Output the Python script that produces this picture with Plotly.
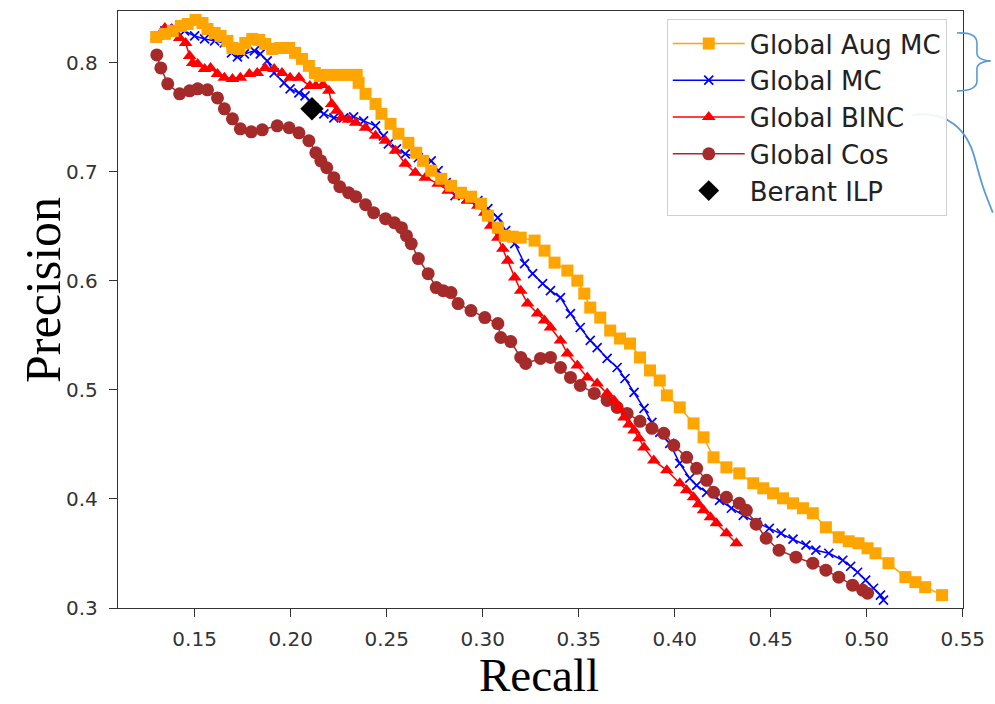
import plotly.graph_objects as go

# ---------------- data ----------------
aug_mc_recall = [0.130,0.1345,0.1386,0.1428,0.1464,0.1505,0.1541,0.1567,0.1604,0.1635,0.1671,0.1697,0.1733,0.1764,0.1800,0.1836,0.1867,0.1904,0.1945,0.1992,0.2023,0.2059,0.2095,0.2126,0.2152,0.2188,0.2240,0.2292,0.2344,0.2354,0.2390,0.2442,0.2473,0.2520,0.2561,0.2613,0.2654,0.2690,0.2732,0.2784,0.2835,0.2887,0.2939,0.2991,0.3027,0.3079,0.3115,0.3156,0.3198,0.3270,0.3322,0.3374,0.3441,0.3493,0.3529,0.3560,0.3612,0.3664,0.3715,0.3767,0.3819,0.3871,0.3922,0.3959,0.4026,0.4098,0.4150,0.4202,0.4269,0.4336,0.4409,0.4461,0.4512,0.4564,0.4616,0.4668,0.4719,0.4787,0.4854,0.4906,0.4957,0.5004,0.5045,0.5113,0.5201,0.5253,0.5304,0.5392]
aug_mc_precision = [0.8238,0.8266,0.8293,0.8339,0.8357,0.8394,0.8366,0.8311,0.8275,0.8247,0.8202,0.8137,0.8128,0.8183,0.8220,0.8211,0.8174,0.8128,0.8137,0.8137,0.8092,0.8037,0.7973,0.7908,0.7881,0.7890,0.7890,0.7890,0.7890,0.7817,0.7716,0.7624,0.7533,0.7441,0.7350,0.7267,0.7176,0.7102,0.7011,0.6937,0.6873,0.6809,0.6773,0.6708,0.6599,0.6489,0.6415,0.6406,0.6397,0.6370,0.6278,0.6168,0.6095,0.6003,0.5884,0.5756,0.5664,0.5545,0.5472,0.5426,0.5298,0.5179,0.5087,0.4950,0.4840,0.4693,0.4565,0.4382,0.4290,0.4235,0.4144,0.4098,0.4052,0.4006,0.3960,0.3915,0.3869,0.3740,0.3649,0.3612,0.3594,0.3548,0.3502,0.3411,0.3283,0.3237,0.3191,0.3118]

mc_recall = [0.1303,0.1345,0.1396,0.1448,0.1500,0.1552,0.1604,0.1655,0.1692,0.1723,0.1759,0.1811,0.1842,0.1878,0.1914,0.1966,0.1997,0.2043,0.2075,0.2121,0.2173,0.2225,0.2276,0.2328,0.2380,0.2442,0.2483,0.2509,0.2551,0.2597,0.2665,0.2732,0.2768,0.2810,0.2856,0.2913,0.2975,0.3027,0.3079,0.3120,0.3167,0.3218,0.3260,0.3312,0.3353,0.3405,0.3457,0.3508,0.3560,0.3596,0.3648,0.3700,0.3741,0.3788,0.3840,0.3881,0.3922,0.3974,0.4026,0.4078,0.4114,0.4166,0.4233,0.4295,0.4357,0.4424,0.4492,0.4554,0.4616,0.4683,0.4735,0.4802,0.4875,0.4916,0.4952,0.4994,0.5035,0.5071,0.5087]
mc_precision = [0.8229,0.8293,0.8311,0.8293,0.8247,0.8220,0.8202,0.8183,0.8092,0.8055,0.8082,0.8110,0.8082,0.8018,0.7908,0.7817,0.7762,0.7725,0.7698,0.7588,0.7533,0.7496,0.7496,0.7505,0.7469,0.7423,0.7331,0.7258,0.7212,0.7166,0.7130,0.7102,0.7011,0.6901,0.6782,0.6754,0.6736,0.6663,0.6580,0.6461,0.6342,0.6159,0.6067,0.5976,0.5911,0.5847,0.5701,0.5573,0.5454,0.5389,0.5289,0.5206,0.5105,0.4977,0.4831,0.4702,0.4611,0.4510,0.4327,0.4190,0.4125,0.4061,0.3988,0.3915,0.3850,0.3786,0.3731,0.3686,0.3631,0.3576,0.3530,0.3502,0.3438,0.3383,0.3328,0.3255,0.3181,0.3118,0.3072]

binc_recall = [0.1303,0.1345,0.1381,0.1422,0.1453,0.1474,0.1490,0.1516,0.1552,0.1583,0.1619,0.1655,0.1697,0.1738,0.1785,0.1826,0.1867,0.1914,0.1955,0.1997,0.2043,0.2100,0.2131,0.2168,0.2199,0.2214,0.2240,0.2266,0.2302,0.2339,0.2390,0.2442,0.2494,0.2546,0.2597,0.2649,0.2701,0.2768,0.2820,0.2872,0.2923,0.2975,0.3011,0.3042,0.3079,0.3105,0.3130,0.3167,0.3198,0.3234,0.3286,0.3322,0.3353,0.3405,0.3441,0.3493,0.3545,0.3596,0.3648,0.3684,0.3710,0.3736,0.3762,0.3788,0.3814,0.3840,0.3891,0.3959,0.4026,0.4062,0.4098,0.4124,0.4150,0.4186,0.4217,0.4269,0.4321]
binc_precision = [0.8238,0.8321,0.8311,0.8229,0.8183,0.8064,0.8000,0.7991,0.7945,0.7954,0.7899,0.7863,0.7853,0.7863,0.7899,0.7908,0.7954,0.7945,0.7908,0.7863,0.7863,0.7789,0.7789,0.7798,0.7744,0.7624,0.7560,0.7496,0.7478,0.7450,0.7405,0.7331,0.7286,0.7194,0.7075,0.6992,0.6947,0.6892,0.6828,0.6782,0.6736,0.6690,0.6626,0.6507,0.6397,0.6296,0.6186,0.6031,0.5911,0.5792,0.5701,0.5637,0.5573,0.5454,0.5334,0.5225,0.5115,0.5060,0.4968,0.4904,0.4831,0.4748,0.4684,0.4629,0.4556,0.4473,0.4354,0.4263,0.4144,0.4080,0.4015,0.3951,0.3896,0.3832,0.3777,0.3686,0.3594]

cos_recall = [0.1303,0.1324,0.1360,0.1422,0.1474,0.1516,0.1567,0.1619,0.1655,0.1697,0.1738,0.1795,0.1852,0.1930,0.1992,0.2043,0.2095,0.2131,0.2157,0.2188,0.2225,0.2256,0.2302,0.2339,0.2390,0.2432,0.2494,0.2540,0.2577,0.2603,0.2628,0.2665,0.2716,0.2758,0.2794,0.2835,0.2872,0.2939,0.3011,0.3079,0.3094,0.3146,0.3198,0.3224,0.3301,0.3353,0.3405,0.3457,0.3508,0.3581,0.3648,0.3700,0.3752,0.3819,0.3881,0.3943,0.3995,0.4062,0.4114,0.4166,0.4202,0.4269,0.4336,0.4373,0.4424,0.4476,0.4543,0.4631,0.4719,0.4787,0.4854,0.4926,0.4978,0.5004]
cos_precision = [0.8073,0.7954,0.7808,0.7716,0.7744,0.7762,0.7753,0.7679,0.7579,0.7487,0.7395,0.7368,0.7386,0.7423,0.7405,0.7359,0.7286,0.7176,0.7102,0.7038,0.6947,0.6864,0.6809,0.6773,0.6699,0.6626,0.6571,0.6534,0.6489,0.6415,0.6342,0.6205,0.6067,0.5939,0.5911,0.5893,0.5792,0.5728,0.5664,0.5609,0.5481,0.5444,0.5298,0.5243,0.5289,0.5298,0.5206,0.5115,0.5041,0.4968,0.4904,0.4840,0.4785,0.4712,0.4648,0.4602,0.4492,0.4382,0.4281,0.4171,0.4061,0.4015,0.3960,0.3896,0.3768,0.3640,0.3530,0.3466,0.3411,0.3347,0.3283,0.3209,0.3164,0.3136]

ilp_recall = [0.2111]
ilp_precision = [0.7579]

x_ticks = [0.15, 0.20, 0.25, 0.30, 0.35, 0.40, 0.45, 0.50, 0.55]
x_tick_labels = ["0.15", "0.20", "0.25", "0.30", "0.35", "0.40", "0.45", "0.50", "0.55"]
y_ticks = [0.3, 0.4, 0.5, 0.6, 0.7, 0.8]
y_tick_labels = ["0.3", "0.4", "0.5", "0.6", "0.7", "0.8"]

# ---------------- figure ----------------
W, H = 995, 704
L, T = 118, 10
R = W - 968
B = H - 608
PW, PH = W - L - R, H - T - B


def px(x, y):
    """page pixel position -> paper coordinates (used for decorations only)"""
    return (x - L) / PW, (H - B - y) / PH


fig = go.Figure()

fig.add_trace(go.Scatter(
    x=mc_recall, y=mc_precision, mode="lines+markers", name="Global MC",
    legendrank=2, legendgroup="b",
    line=dict(color="#0000FF", width=1.5),
    marker=dict(symbol="x-thin", size=9, color="#0000FF",
                line=dict(width=1.7, color="#0000FF"))))
fig.add_trace(go.Scatter(
    x=cos_recall, y=cos_precision, mode="lines+markers", name="Global Cos",
    legendrank=4, legendgroup="d",
    line=dict(color="#A52A2A", width=1.5),
    marker=dict(symbol="circle", size=13, color="#A52A2A")))
fig.add_trace(go.Scatter(
    x=binc_recall, y=binc_precision, mode="lines+markers", name="Global BINC",
    legendrank=3, legendgroup="c",
    line=dict(color="#FF0000", width=1.5),
    marker=dict(symbol="triangle-up", size=12, color="#FF0000")))
fig.add_trace(go.Scatter(
    x=aug_mc_recall, y=aug_mc_precision, mode="lines+markers", name="Global Aug MC",
    legendrank=1, legendgroup="a",
    line=dict(color="#FFA500", width=1.5),
    marker=dict(symbol="square", size=12, color="#FFA500")))
fig.add_trace(go.Scatter(
    x=ilp_recall, y=ilp_precision, mode="markers", name="Berant ILP",
    legendrank=5, legendgroup="e",
    marker=dict(symbol="diamond", size=18, color="#000000")))

axis_common = dict(
    showline=True, mirror=True, linecolor="#333333", linewidth=1.4,
    ticks="outside", ticklen=8, tickwidth=1.3, tickcolor="#333333",
    showgrid=False, zeroline=False,
    tickfont=dict(family="DejaVu Sans", size=20, color="#333333"),
)

fig.update_xaxes(range=[0.1101, 0.5501], tickvals=x_ticks, ticktext=x_tick_labels,
                 ticklabelstandoff=5, **axis_common)
fig.update_yaxes(range=[0.3, 0.8476], tickvals=y_ticks, ticktext=y_tick_labels,
                 ticklabelstandoff=7, **axis_common)

ax, ay = px(42, 289)
rx, ry = px(541, 675)
annotations = [
    dict(text="Precision", x=ax, y=ay, xref="paper", yref="paper", textangle=-90,
         showarrow=False, xanchor="center", yanchor="middle",
         font=dict(family="Liberation Serif", size=50, color="#000000")),
    dict(text="Recall", x=rx, y=ry, xref="paper", yref="paper",
         showarrow=False, xanchor="center", yanchor="middle",
         font=dict(family="Liberation Serif", size=47, color="#000000")),
]


def path(points_cmds):
    out = []
    for cmd, pts in points_cmds:
        coords = " ".join("%.4f,%.4f" % px(*p) for p in pts)
        out.append(cmd + " " + coords)
    return " ".join(out)


brace = path([("M", [(962, 32)]), ("Q", [(982, 31), (982, 42)]), ("L", [(982, 52)]),
              ("Q", [(982, 59), (996, 60)]), ("M", [(996, 60)]), ("Q", [(982, 61), (982, 68)]),
              ("L", [(982, 80)]), ("Q", [(982, 90), (962, 90)])])
curve = path([("M", [(917, 114)]), ("C", [(952, 110), (972, 128), (980, 158)]),
              ("S", [(990, 192), (998, 212)])])

shapes = [
    dict(type="path", path=brace, xref="paper", yref="paper",
         line=dict(color="#5B9BD5", width=1.6)),
    dict(type="path", path=curve, xref="paper", yref="paper",
         line=dict(color="#5B9BD5", width=1.8)),
]

lx, ly = px(670, 18)
fig.update_layout(
    width=W, height=H, autosize=False,
    margin=dict(l=L, r=R, t=T, b=B),
    paper_bgcolor="white", plot_bgcolor="white",
    annotations=annotations, shapes=shapes,
    legend=dict(x=lx, y=ly, xanchor="left", yanchor="top",
                bgcolor="rgba(255,255,255,0.9)", bordercolor="#D0D0D0", borderwidth=1,
                font=dict(family="DejaVu Sans", size=26, color="#222222"),
                itemwidth=72, tracegroupgap=0, traceorder="grouped"),
    showlegend=True,
)

fig.write_html(
    "out.html",
    config={"displayModeBar": False},
    post_script="document.body.style.margin='0';document.body.style.overflow='hidden';",
)
